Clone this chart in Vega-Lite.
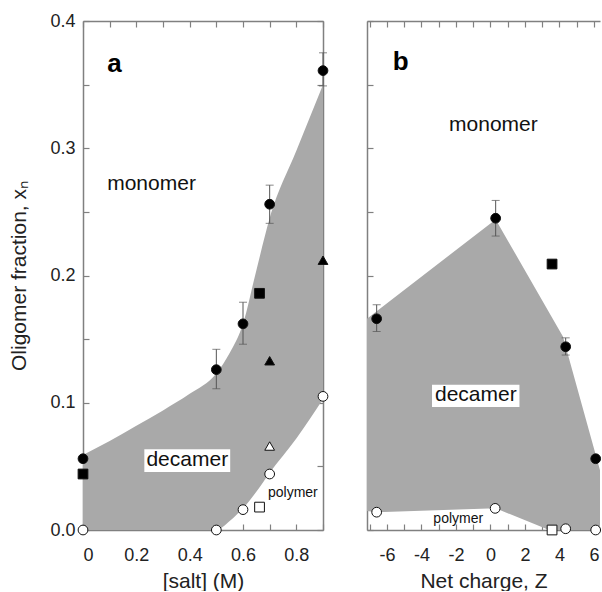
{
  "$schema": "https://vega.github.io/schema/vega-lite/v6.json",
  "padding": {"left": 8, "top": 12, "right": 0, "bottom": 0},
  "spacing": 36,
  "config": {
    "font": "Liberation Sans",
    "view": {"stroke": null},
    "axis": {
      "grid": false,
      "domainColor": "#808080",
      "domainWidth": 1.5,
      "tickColor": "#808080",
      "tickWidth": 1.2,
      "tickSize": -6,
      "labelFont": "Liberation Sans",
      "labelFontSize": 18,
      "labelColor": "#222222",
      "titleFont": "Liberation Sans",
      "titleFontSize": 21,
      "titleFontWeight": "normal",
      "titleColor": "#222222"
    }
  },
  "resolve": {"scale": {"x": "independent", "y": "independent"}},
  "datasets": {
    "a_region": [
      {"salt": 0, "hi": 0.059, "lo": 0},
      {"salt": 0.1, "hi": 0.07, "lo": 0},
      {"salt": 0.2, "hi": 0.082, "lo": 0},
      {"salt": 0.3, "hi": 0.094, "lo": 0},
      {"salt": 0.4, "hi": 0.107, "lo": 0},
      {"salt": 0.5, "hi": 0.123, "lo": 0},
      {"salt": 0.55, "hi": 0.139, "lo": 0.007},
      {"salt": 0.6, "hi": 0.162, "lo": 0.017},
      {"salt": 0.65, "hi": 0.204, "lo": 0.03},
      {"salt": 0.7, "hi": 0.245, "lo": 0.045},
      {"salt": 0.8, "hi": 0.298, "lo": 0.072},
      {"salt": 0.9, "hi": 0.35, "lo": 0.103}
    ],
    "a_points": [
      {"salt": 0, "xn": 0.056, "group": "monomer-decamer"},
      {"salt": 0.5, "xn": 0.126, "ylo": 0.111, "yhi": 0.142, "group": "monomer-decamer"},
      {"salt": 0.6, "xn": 0.162, "ylo": 0.146, "yhi": 0.179, "group": "monomer-decamer"},
      {"salt": 0.7, "xn": 0.256, "ylo": 0.241, "yhi": 0.271, "group": "monomer-decamer"},
      {"salt": 0.9, "xn": 0.361, "ylo": 0.349, "yhi": 0.375, "group": "monomer-decamer"},
      {"salt": 0, "xn": 0.044, "group": "square upper"},
      {"salt": 0.662, "xn": 0.186, "group": "square upper"},
      {"salt": 0.7, "xn": 0.133, "group": "triangle upper"},
      {"salt": 0.9, "xn": 0.212, "group": "triangle upper"},
      {"salt": 0.7, "xn": 0.066, "group": "triangle lower"},
      {"salt": 0, "xn": 0, "group": "decamer-polymer"},
      {"salt": 0.5, "xn": 0, "group": "decamer-polymer"},
      {"salt": 0.6, "xn": 0.016, "group": "decamer-polymer"},
      {"salt": 0.7, "xn": 0.044, "group": "decamer-polymer"},
      {"salt": 0.9, "xn": 0.105, "group": "decamer-polymer"},
      {"salt": 0.662, "xn": 0.018, "group": "square lower"}
    ],
    "a_labels": [
      {"salt": 0.118, "xn": 0.3596, "text": "a", "role": "letter"},
      {"salt": 0.257, "xn": 0.2672, "text": "monomer", "role": "region"},
      {"salt": 0.391, "xn": 0.0506, "text": "decamer", "role": "region"},
      {"salt": 0.787, "xn": 0.0262, "text": "polymer", "role": "small"}
    ],
    "a_box": [
      {"x1": 0.23, "x2": 0.552, "y1": 0.0455, "y2": 0.0635}
    ],
    "b_region": [
      {"z": -7.16, "hi": 0.166, "lo": 0.015},
      {"z": -6.6, "hi": 0.172, "lo": 0.014},
      {"z": 0.3, "hi": 0.244, "lo": 0.017},
      {"z": 3.4, "hi": 0.171, "lo": 0},
      {"z": 4.2, "hi": 0.152, "lo": 0},
      {"z": 6.35, "hi": 0.047, "lo": 0}
    ],
    "b_points": [
      {"z": -6.6, "xn": 0.166, "ylo": 0.156, "yhi": 0.177, "group": "monomer-decamer"},
      {"z": 0.3, "xn": 0.245, "ylo": 0.231, "yhi": 0.259, "group": "monomer-decamer"},
      {"z": 4.36, "xn": 0.144, "ylo": 0.1375, "yhi": 0.151, "group": "monomer-decamer"},
      {"z": 6.1, "xn": 0.056, "group": "monomer-decamer"},
      {"z": 3.57, "xn": 0.209, "group": "square upper"},
      {"z": -6.6, "xn": 0.014, "group": "decamer-polymer"},
      {"z": 0.27, "xn": 0.017, "group": "decamer-polymer"},
      {"z": 4.36, "xn": 0.001, "group": "decamer-polymer"},
      {"z": 6.1, "xn": 0, "group": "decamer-polymer"},
      {"z": 3.57, "xn": 0, "group": "square lower"}
    ],
    "b_labels": [
      {"z": -5.2, "xn": 0.3614, "text": "b", "role": "letter"},
      {"z": 0.17, "xn": 0.3137, "text": "monomer", "role": "region"},
      {"z": -0.85, "xn": 0.1016, "text": "decamer", "role": "region"},
      {"z": -1.87, "xn": 0.0053, "text": "polymer", "role": "small"}
    ],
    "b_box": [
      {"x1": -3.39, "x2": 1.68, "y1": 0.0966, "y2": 0.1142}
    ]
  },
  "hconcat": [
    {
      "width": 240,
      "height": 509,
      "resolve": {"axis": {"x": "independent", "y": "independent"}},
      "layer": [
        {
          "data": {"name": "a_region"},
          "mark": {"type": "area", "interpolate": "monotone", "color": "#a9a9a9", "opacity": 1},
          "encoding": {
            "x": {"field": "salt", "type": "quantitative", "scale": {"domain": [0, 0.9], "nice": false, "zero": false},
              "axis": {"orient": "bottom", "title": "[salt] (M)", "values": [0, 0.1, 0.2, 0.3, 0.4, 0.5, 0.6, 0.7, 0.8, 0.9],
                "labelExpr": "indexof([0,2,4,6,8], round(datum.value*10)) >= 0 ? (datum.value == 0 ? '0' : format(datum.value, '.1f')) : ''",
                "labelPadding": 22, "titlePadding": 6}},
            "y": {"field": "hi", "type": "quantitative", "scale": {"domain": [0, 0.4], "nice": false, "zero": false},
              "axis": {"orient": "left", "title": "Oligomer fraction, xₙ", "values": [0, 0.05, 0.1, 0.15, 0.2, 0.25, 0.3, 0.35, 0.4],
                "labelExpr": "round(datum.value*100) % 10 == 0 ? format(datum.value, '.1f') : ''",
                "labelPadding": 14, "titlePadding": 20}},
            "y2": {"field": "lo"}
          }
        },
        {
          "data": {"name": "a_points"},
          "transform": [{"filter": "isValid(datum.ylo)"}],
          "mark": {"type": "rule", "color": "#555555", "strokeWidth": 1},
          "encoding": {
            "x": {"field": "salt", "type": "quantitative", "scale": {"domain": [0, 0.9], "nice": false, "zero": false},
              "axis": {"orient": "top", "title": null, "labels": false, "values": [0, 0.1, 0.2, 0.3, 0.4, 0.5, 0.6, 0.7, 0.8, 0.9]}},
            "y": {"field": "ylo", "type": "quantitative", "scale": {"domain": [0, 0.4], "nice": false, "zero": false},
              "axis": {"orient": "right", "title": null, "labels": false, "values": [0, 0.05, 0.1, 0.15, 0.2, 0.25, 0.3, 0.35, 0.4]}},
            "y2": {"field": "yhi"}
          }
        },
        {
          "data": {"name": "a_points"},
          "transform": [{"filter": "isValid(datum.ylo)"}],
          "mark": {"type": "tick", "orient": "horizontal", "color": "#555555", "size": 8, "thickness": 1},
          "encoding": {
            "x": {"field": "salt", "type": "quantitative", "scale": {"domain": [0, 0.9], "nice": false, "zero": false}, "axis": null},
            "y": {"field": "ylo", "type": "quantitative", "scale": {"domain": [0, 0.4], "nice": false, "zero": false}, "axis": null}
          }
        },
        {
          "data": {"name": "a_points"},
          "transform": [{"filter": "isValid(datum.yhi)"}],
          "mark": {"type": "tick", "orient": "horizontal", "color": "#555555", "size": 8, "thickness": 1},
          "encoding": {
            "x": {"field": "salt", "type": "quantitative", "scale": {"domain": [0, 0.9], "nice": false, "zero": false}, "axis": null},
            "y": {"field": "yhi", "type": "quantitative", "scale": {"domain": [0, 0.4], "nice": false, "zero": false}, "axis": null}
          }
        },
        {
          "data": {"name": "a_points"},
          "mark": {"type": "point", "stroke": "#111111", "strokeWidth": 1, "opacity": 1},
          "encoding": {
            "x": {"field": "salt", "type": "quantitative", "scale": {"domain": [0, 0.9], "nice": false, "zero": false}, "axis": null},
            "y": {"field": "xn", "type": "quantitative", "scale": {"domain": [0, 0.4], "nice": false, "zero": false}, "axis": null},
            "shape": {"field": "group", "type": "nominal", "legend": null,
              "scale": {"domain": ["monomer-decamer", "decamer-polymer", "square upper", "square lower", "triangle upper", "triangle lower"],
                "range": ["circle", "circle", "square", "square", "triangle-up", "triangle-up"]}},
            "fill": {"field": "group", "type": "nominal", "legend": null,
              "scale": {"domain": ["monomer-decamer", "decamer-polymer", "square upper", "square lower", "triangle upper", "triangle lower"],
                "range": ["#000000", "#ffffff", "#000000", "#ffffff", "#000000", "#ffffff"]}},
            "size": {"field": "group", "type": "nominal", "legend": null,
              "scale": {"domain": ["monomer-decamer", "decamer-polymer", "square upper", "square lower", "triangle upper", "triangle lower"],
                "range": [95, 95, 70, 70, 50, 50]}}
          }
        },
        {
          "data": {"name": "a_box"},
          "mark": {"type": "rect", "color": "#ffffff", "opacity": 1},
          "encoding": {
            "x": {"field": "x1", "type": "quantitative", "scale": {"domain": [0, 0.9], "nice": false, "zero": false}, "axis": null},
            "x2": {"field": "x2"},
            "y": {"field": "y1", "type": "quantitative", "scale": {"domain": [0, 0.4], "nice": false, "zero": false}, "axis": null},
            "y2": {"field": "y2"}
          }
        },
        {
          "data": {"name": "a_labels"},
          "transform": [{"filter": "datum.role == 'letter'"}],
          "mark": {"type": "text", "fontSize": 26, "fontWeight": "bold", "align": "center", "baseline": "alphabetic", "color": "#000000"},
          "encoding": {
            "x": {"field": "salt", "type": "quantitative", "scale": {"domain": [0, 0.9], "nice": false, "zero": false}, "axis": null},
            "y": {"field": "xn", "type": "quantitative", "scale": {"domain": [0, 0.4], "nice": false, "zero": false}, "axis": null},
            "text": {"field": "text"}
          }
        },
        {
          "data": {"name": "a_labels"},
          "transform": [{"filter": "datum.role == 'region'"}],
          "mark": {"type": "text", "fontSize": 21, "align": "center", "baseline": "alphabetic", "color": "#111111"},
          "encoding": {
            "x": {"field": "salt", "type": "quantitative", "scale": {"domain": [0, 0.9], "nice": false, "zero": false}, "axis": null},
            "y": {"field": "xn", "type": "quantitative", "scale": {"domain": [0, 0.4], "nice": false, "zero": false}, "axis": null},
            "text": {"field": "text"}
          }
        },
        {
          "data": {"name": "a_labels"},
          "transform": [{"filter": "datum.role == 'small'"}],
          "mark": {"type": "text", "fontSize": 14, "align": "center", "baseline": "alphabetic", "color": "#111111"},
          "encoding": {
            "x": {"field": "salt", "type": "quantitative", "scale": {"domain": [0, 0.9], "nice": false, "zero": false}, "axis": null},
            "y": {"field": "xn", "type": "quantitative", "scale": {"domain": [0, 0.4], "nice": false, "zero": false}, "axis": null},
            "text": {"field": "text"}
          }
        }
      ]
    },
    {
      "width": 233,
      "height": 509,
      "resolve": {"axis": {"x": "independent", "y": "independent"}},
      "layer": [
        {
          "data": {"name": "b_region"},
          "mark": {"type": "area", "interpolate": "linear", "color": "#a9a9a9", "opacity": 1},
          "encoding": {
            "x": {"field": "z", "type": "quantitative", "scale": {"domain": [-7.16, 6.35], "nice": false, "zero": false},
              "axis": {"orient": "bottom", "title": "Net charge, Z", "values": [-7, -6, -5, -4, -3, -2, -1, 0, 1, 2, 3, 4, 5, 6],
                "labelExpr": "round(datum.value) % 2 == 0 ? '' + datum.value : ''",
                "labelPadding": 22, "titlePadding": 6}},
            "y": {"field": "hi", "type": "quantitative", "scale": {"domain": [0, 0.4], "nice": false, "zero": false},
              "axis": {"orient": "left", "title": null, "labels": false, "values": [0, 0.05, 0.1, 0.15, 0.2, 0.25, 0.3, 0.35, 0.4]}},
            "y2": {"field": "lo"}
          }
        },
        {
          "data": {"name": "b_points"},
          "transform": [{"filter": "isValid(datum.ylo)"}],
          "mark": {"type": "rule", "color": "#555555", "strokeWidth": 1},
          "encoding": {
            "x": {"field": "z", "type": "quantitative", "scale": {"domain": [-7.16, 6.35], "nice": false, "zero": false},
              "axis": {"orient": "top", "title": null, "labels": false, "values": [-7, -6, -5, -4, -3, -2, -1, 0, 1, 2, 3, 4, 5, 6]}},
            "y": {"field": "ylo", "type": "quantitative", "scale": {"domain": [0, 0.4], "nice": false, "zero": false}, "axis": null},
            "y2": {"field": "yhi"}
          }
        },
        {
          "data": {"name": "b_points"},
          "transform": [{"filter": "isValid(datum.ylo)"}],
          "mark": {"type": "tick", "orient": "horizontal", "color": "#555555", "size": 8, "thickness": 1},
          "encoding": {
            "x": {"field": "z", "type": "quantitative", "scale": {"domain": [-7.16, 6.35], "nice": false, "zero": false}, "axis": null},
            "y": {"field": "ylo", "type": "quantitative", "scale": {"domain": [0, 0.4], "nice": false, "zero": false}, "axis": null}
          }
        },
        {
          "data": {"name": "b_points"},
          "transform": [{"filter": "isValid(datum.yhi)"}],
          "mark": {"type": "tick", "orient": "horizontal", "color": "#555555", "size": 8, "thickness": 1},
          "encoding": {
            "x": {"field": "z", "type": "quantitative", "scale": {"domain": [-7.16, 6.35], "nice": false, "zero": false}, "axis": null},
            "y": {"field": "yhi", "type": "quantitative", "scale": {"domain": [0, 0.4], "nice": false, "zero": false}, "axis": null}
          }
        },
        {
          "data": {"name": "b_points"},
          "mark": {"type": "point", "stroke": "#111111", "strokeWidth": 1, "opacity": 1},
          "encoding": {
            "x": {"field": "z", "type": "quantitative", "scale": {"domain": [-7.16, 6.35], "nice": false, "zero": false}, "axis": null},
            "y": {"field": "xn", "type": "quantitative", "scale": {"domain": [0, 0.4], "nice": false, "zero": false}, "axis": null},
            "shape": {"field": "group", "type": "nominal", "legend": null,
              "scale": {"domain": ["monomer-decamer", "decamer-polymer", "square upper", "square lower", "triangle upper", "triangle lower"],
                "range": ["circle", "circle", "square", "square", "triangle-up", "triangle-up"]}},
            "fill": {"field": "group", "type": "nominal", "legend": null,
              "scale": {"domain": ["monomer-decamer", "decamer-polymer", "square upper", "square lower", "triangle upper", "triangle lower"],
                "range": ["#000000", "#ffffff", "#000000", "#ffffff", "#000000", "#ffffff"]}},
            "size": {"field": "group", "type": "nominal", "legend": null,
              "scale": {"domain": ["monomer-decamer", "decamer-polymer", "square upper", "square lower", "triangle upper", "triangle lower"],
                "range": [95, 95, 70, 70, 50, 50]}}
          }
        },
        {
          "data": {"name": "b_box"},
          "mark": {"type": "rect", "color": "#ffffff", "opacity": 1},
          "encoding": {
            "x": {"field": "x1", "type": "quantitative", "scale": {"domain": [-7.16, 6.35], "nice": false, "zero": false}, "axis": null},
            "x2": {"field": "x2"},
            "y": {"field": "y1", "type": "quantitative", "scale": {"domain": [0, 0.4], "nice": false, "zero": false}, "axis": null},
            "y2": {"field": "y2"}
          }
        },
        {
          "data": {"name": "b_labels"},
          "transform": [{"filter": "datum.role == 'letter'"}],
          "mark": {"type": "text", "fontSize": 26, "fontWeight": "bold", "align": "center", "baseline": "alphabetic", "color": "#000000"},
          "encoding": {
            "x": {"field": "z", "type": "quantitative", "scale": {"domain": [-7.16, 6.35], "nice": false, "zero": false}, "axis": null},
            "y": {"field": "xn", "type": "quantitative", "scale": {"domain": [0, 0.4], "nice": false, "zero": false}, "axis": null},
            "text": {"field": "text"}
          }
        },
        {
          "data": {"name": "b_labels"},
          "transform": [{"filter": "datum.role == 'region'"}],
          "mark": {"type": "text", "fontSize": 21, "align": "center", "baseline": "alphabetic", "color": "#111111"},
          "encoding": {
            "x": {"field": "z", "type": "quantitative", "scale": {"domain": [-7.16, 6.35], "nice": false, "zero": false}, "axis": null},
            "y": {"field": "xn", "type": "quantitative", "scale": {"domain": [0, 0.4], "nice": false, "zero": false}, "axis": null},
            "text": {"field": "text"}
          }
        },
        {
          "data": {"name": "b_labels"},
          "transform": [{"filter": "datum.role == 'small'"}],
          "mark": {"type": "text", "fontSize": 14, "align": "center", "baseline": "alphabetic", "color": "#111111"},
          "encoding": {
            "x": {"field": "z", "type": "quantitative", "scale": {"domain": [-7.16, 6.35], "nice": false, "zero": false}, "axis": null},
            "y": {"field": "xn", "type": "quantitative", "scale": {"domain": [0, 0.4], "nice": false, "zero": false}, "axis": null},
            "text": {"field": "text"}
          }
        }
      ]
    }
  ]
}
